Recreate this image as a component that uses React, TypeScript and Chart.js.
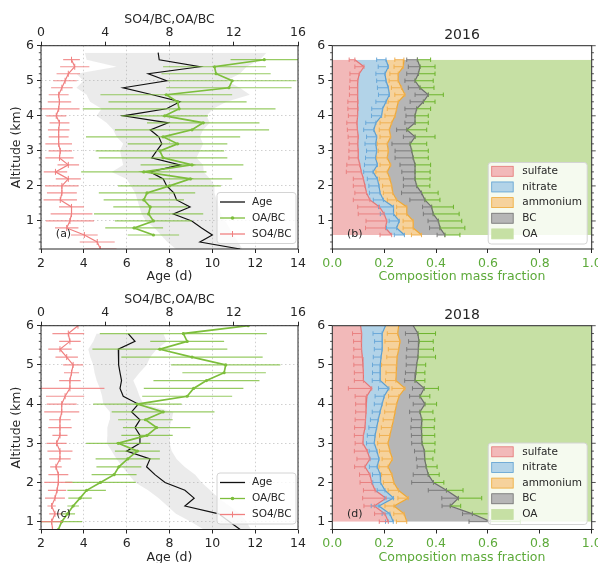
import React, { useEffect, useRef } from 'react';
import { Chart, registerables } from 'chart.js';

Chart.register(...registerables);

const FONT = 'DejaVu Sans';
const INK = '#262626';
const GREEN_TXT = '#5daa3a';

// ---------- tick labels ----------
const altTicks = [1, 2, 3, 4, 5, 6];
const ageTicks = [2, 4, 6, 8, 10, 12, 14];
const ratioTicks = [0, 4, 8, 12, 16];
const fracTicks = [0, 0.2, 0.4, 0.6, 0.8, 1.0];

// ---------- (a) 2016 profiles ----------
const ageAlt2016 = [5.8, 5.6, 5.4, 5.2, 5.0, 4.8, 4.6, 4.4, 4.2, 4.0, 3.8, 3.6, 3.4, 3.2, 3.0, 2.8, 2.6, 2.4, 2.2, 2.0, 1.8, 1.6, 1.4, 1.2, 1.0, 0.8, 0.6, 0.4, 0.2];
const age2016 = [7.47, 7.52, 9.42, 7.01, 7.87, 5.84, 7.2, 8.49, 7.86, 5.84, 7.94, 7.1, 7.5, 7.64, 7.4, 7.17, 8.49, 7.09, 7.71, 7.87, 8.2, 8.33, 8.96, 8.18, 9.04, 9.5, 10.0, 9.42, 11.3];
const ageLo2016 = [4.05, 4.13, 5.53, 3.66, 3.98, 3.66, 4.13, 4.29, 4.83, 4.6, 5.06, 5.37, 5.53, 5.84, 5.69, 5.76, 5.84, 5.3, 6.0, 6.2, 6.4, 6.5, 6.6, 6.7, 6.9, 7.3, 7.6, 7.9, 8.3];
const ageHi2016 = [12.53, 12.22, 11.6, 11.28, 10.66, 11.28, 11.75, 10.66, 10.04, 9.73, 9.88, 9.57, 9.42, 9.57, 9.42, 9.26, 9.57, 9.6, 9.9, 10.1, 10.1, 10.2, 10.3, 10.4, 10.6, 10.8, 11.0, 11.2, 11.4];

const so4Alt2016 = [5.6, 5.4, 5.2, 5.0, 4.8, 4.6, 4.4, 4.2, 4.0, 3.8, 3.6, 3.4, 3.2, 3.0, 2.8, 2.6, 2.4, 2.2, 2.0, 1.8, 1.6, 1.4, 1.2, 1.0, 0.8, 0.6, 0.4, 0.2];
const so4bc2016 = [1.9, 2.1, 1.7, 1.5, 1.3, 1.1, 1.15, 1.1, 0.95, 1.15, 1.1, 1.1, 1.1, 1.2, 1.15, 1.7, 0.9, 1.7, 1.3, 1.3, 1.2, 1.9, 1.9, 1.8, 1.6, 2.7, 3.5, 3.7];
const so4bcErr2016 = [0.52, 0.91, 0.73, 0.73, 0.67, 0.62, 0.73, 1.3, 0.62, 0.62, 0.67, 0.62, 0.83, 0.73, 0.88, 0.67, 0.73, 0.78, 1.04, 0.93, 1.04, 0.78, 1.3, 1.5, 0.73, 0.83, 1.09, 1.0];

const oaAlt2016 = [5.6, 5.4, 5.2, 5.0, 4.8, 4.6, 4.4, 4.2, 4.0, 3.8, 3.6, 3.4, 3.2, 3.0, 2.8, 2.6, 2.4, 2.2, 2.0, 1.8, 1.6, 1.4, 1.2, 1.0, 0.8, 0.6];
const oabc2016 = [13.9, 10.8, 10.9, 11.9, 11.7, 7.8, 8.5, 8.6, 7.7, 10.1, 9.4, 7.6, 8.5, 7.4, 7.6, 9.4, 6.4, 9.3, 8.0, 6.6, 6.4, 6.8, 6.7, 7.0, 5.8, 7.0];
const oabcErr2016 = [2.1, 3.2, 3.4, 4.0, 3.9, 4.1, 4.3, 6.0, 2.7, 3.5, 4.8, 4.8, 3.1, 4.0, 4.0, 3.2, 3.9, 2.6, 3.2, 3.0, 2.5, 2.3, 3.4, 2.4, 1.8, 1.6];

// ---------- (b) 2016 composition ----------
const compAlt2016 = [5.6, 5.4, 5.2, 5.0, 4.8, 4.6, 4.4, 4.2, 4.0, 3.8, 3.6, 3.4, 3.2, 3.0, 2.8, 2.6, 2.4, 2.2, 2.0, 1.8, 1.6, 1.4, 1.2, 1.0, 0.8, 0.6];
const sulfate2016 = [0.087, 0.122, 0.104, 0.098, 0.097, 0.097, 0.099, 0.099, 0.097, 0.095, 0.097, 0.100, 0.098, 0.100, 0.100, 0.106, 0.112, 0.120, 0.126, 0.132, 0.145, 0.182, 0.200, 0.210, 0.205, 0.229];
const nitrate2016 = [0.120, 0.094, 0.099, 0.109, 0.119, 0.123, 0.108, 0.095, 0.093, 0.073, 0.063, 0.071, 0.070, 0.071, 0.067, 0.068, 0.045, 0.054, 0.054, 0.052, 0.052, 0.054, 0.036, 0.048, 0.043, 0.049];
const ammonium2016 = [0.069, 0.058, 0.051, 0.047, 0.051, 0.060, 0.047, 0.054, 0.052, 0.061, 0.060, 0.054, 0.044, 0.045, 0.045, 0.051, 0.055, 0.048, 0.049, 0.049, 0.051, 0.051, 0.051, 0.054, 0.064, 0.066];
const bc2016 = [0.052, 0.064, 0.078, 0.065, 0.071, 0.090, 0.097, 0.077, 0.077, 0.090, 0.067, 0.094, 0.088, 0.090, 0.100, 0.094, 0.107, 0.097, 0.096, 0.111, 0.109, 0.096, 0.102, 0.097, 0.103, 0.090];
const oa2016 = [0.672, 0.662, 0.668, 0.681, 0.662, 0.630, 0.649, 0.675, 0.681, 0.681, 0.713, 0.681, 0.700, 0.694, 0.688, 0.681, 0.681, 0.681, 0.675, 0.656, 0.643, 0.617, 0.611, 0.591, 0.585, 0.566];
const sulfateErr2016 = [0.022, 0.035, 0.036, 0.030, 0.031, 0.031, 0.039, 0.039, 0.035, 0.039, 0.039, 0.039, 0.033, 0.036, 0.036, 0.050, 0.058, 0.039, 0.045, 0.045, 0.064, 0.084, 0.100, 0.080, 0.077, 0.045];
const nitrateErr2016 = [0.036, 0.039, 0.035, 0.036, 0.042, 0.042, 0.039, 0.042, 0.039, 0.039, 0.039, 0.039, 0.042, 0.039, 0.039, 0.050, 0.036, 0.039, 0.039, 0.041, 0.039, 0.058, 0.051, 0.039, 0.039, 0.039];
const ammoniumErr2016 = [0.035, 0.036, 0.032, 0.035, 0.039, 0.039, 0.039, 0.036, 0.039, 0.045, 0.039, 0.041, 0.039, 0.039, 0.041, 0.041, 0.044, 0.041, 0.035, 0.036, 0.036, 0.039, 0.039, 0.039, 0.039, 0.039];
const bcErr2016 = [0.041, 0.045, 0.045, 0.039, 0.045, 0.051, 0.051, 0.045, 0.035, 0.039, 0.039, 0.045, 0.070, 0.064, 0.070, 0.058, 0.051, 0.045, 0.051, 0.077, 0.058, 0.035, 0.038, 0.040, 0.040, 0.030];
const oaErr2016 = [0.051, 0.058, 0.064, 0.070, 0.054, 0.058, 0.045, 0.054, 0.051, 0.051, 0.077, 0.077, 0.064, 0.064, 0.058, 0.060, 0.058, 0.058, 0.051, 0.064, 0.058, 0.084, 0.100, 0.090, 0.096, 0.058];

// ---------- (c) 2018 profiles ----------
const ageAlt2018 = [5.8, 5.6, 5.4, 5.2, 5.0, 4.8, 4.6, 4.4, 4.2, 4.0, 3.8, 3.6, 3.4, 3.2, 3.0, 2.8, 2.6, 2.4, 2.2, 2.0, 1.8, 1.6, 1.4, 1.2, 1.0, 0.8];
const age2018 = [6.07, 6.39, 5.61, 5.61, 5.64, 5.69, 5.76, 5.69, 5.84, 6.54, 6.23, 6.62, 6.39, 6.62, 6.62, 6.0, 7.09, 6.93, 7.32, 7.79, 8.72, 9.15, 8.72, 10.3, 10.8, 11.3];
const ageLo2018 = [4.6, 4.44, 4.21, 4.3, 4.44, 4.5, 4.6, 4.75, 4.85, 4.91, 5.22, 5.2, 5.1, 5.1, 5.07, 5.3, 5.53, 5.8, 6.1, 6.4, 7.0, 7.5, 7.9, 8.3, 9.0, 9.6];
const ageHi2018 = [7.71, 7.87, 7.4, 7.1, 6.93, 6.6, 6.31, 6.47, 6.6, 6.78, 8.18, 8.1, 8.0, 8.0, 8.02, 8.1, 8.33, 8.7, 9.2, 9.5, 9.9, 10.3, 10.8, 11.3, 11.6, 11.8];

const ratioAlt2018 = [6.0, 5.8, 5.6, 5.4, 5.2, 5.0, 4.8, 4.6, 4.4, 4.2, 4.0, 3.8, 3.6, 3.4, 3.2, 3.0, 2.8, 2.6, 2.4, 2.2, 2.0, 1.8, 1.6, 1.4, 1.2, 1.0, 0.8];
const so4bc2018 = [2.3, 1.7, 1.8, 1.18, 1.6, 2.0, 1.9, 1.8, 1.8, 1.5, 1.29, 1.29, 1.18, 1.18, 1.18, 0.97, 1.18, 1.18, 0.93, 1.08, 1.08, 1.0, 0.87, 0.66, 0.87, 0.66, 0.72];
const so4bcErr2018 = [0, 0.99, 0.67, 0.73, 0.7, 0.62, 0.47, 0.67, 2.15, 1.19, 0.93, 1.09, 0.67, 0.73, 0.47, 0.62, 0.78, 0.67, 0.36, 0.62, 0.88, 0.57, 0.62, 0.26, 0.36, 0.67, 0.5];
const oabc2018 = [12.9, 8.86, 9.1, 7.4, 9.4, 11.5, 11.4, 10.3, 9.5, 9.1, 6.0, 7.6, 6.5, 7.2, 6.6, 4.81, 6.0, 5.4, 4.85, 4.55, 3.7, 2.84, 2.43, 2.0, 1.65, 1.29, 1.08];
const oabcErr2018 = [0, 5.2, 2.3, 4.2, 4.4, 3.4, 2.6, 3.3, 3.1, 2.8, 2.75, 3.2, 1.7, 2.1, 1.6, 2.0, 1.4, 2.0, 1.4, 1.4, 2.2, 1.2, 0.73, 0.36, 0.47, 1.27, 0.3];

// ---------- (d) 2018 composition ----------
const compAlt2018 = [6.0, 5.8, 5.6, 5.4, 5.2, 5.0, 4.8, 4.6, 4.4, 4.2, 4.0, 3.8, 3.6, 3.4, 3.2, 3.0, 2.8, 2.6, 2.4, 2.2, 2.0, 1.8, 1.6, 1.4, 1.2, 1.0];
const sulfate2018 = [0.109, 0.113, 0.112, 0.113, 0.116, 0.118, 0.120, 0.120, 0.152, 0.133, 0.130, 0.130, 0.128, 0.126, 0.120, 0.118, 0.135, 0.145, 0.126, 0.145, 0.152, 0.165, 0.207, 0.162, 0.203, 0.216];
const nitrate2018 = [0.096, 0.079, 0.081, 0.079, 0.072, 0.067, 0.065, 0.064, 0.066, 0.067, 0.062, 0.054, 0.049, 0.045, 0.045, 0.044, 0.037, 0.035, 0.047, 0.040, 0.034, 0.038, 0.029, 0.018, 0.019, 0.019];
const ammonium2018 = [0.051, 0.060, 0.068, 0.064, 0.062, 0.063, 0.062, 0.061, 0.062, 0.057, 0.056, 0.058, 0.059, 0.058, 0.057, 0.053, 0.050, 0.052, 0.042, 0.045, 0.051, 0.052, 0.057, 0.058, 0.055, 0.052];
const bc2018 = [0.056, 0.078, 0.073, 0.076, 0.080, 0.077, 0.075, 0.074, 0.074, 0.081, 0.109, 0.096, 0.109, 0.114, 0.123, 0.131, 0.133, 0.124, 0.147, 0.140, 0.153, 0.185, 0.193, 0.217, 0.263, 0.323];
const oa2018 = [0.688, 0.670, 0.666, 0.668, 0.670, 0.675, 0.678, 0.681, 0.646, 0.662, 0.643, 0.662, 0.655, 0.657, 0.655, 0.654, 0.645, 0.644, 0.638, 0.630, 0.610, 0.560, 0.514, 0.545, 0.460, 0.390];
const sulfateErr2018 = [0, 0.035, 0.030, 0.030, 0.035, 0.035, 0.035, 0.035, 0.090, 0.045, 0.040, 0.040, 0.040, 0.040, 0.035, 0.030, 0.050, 0.050, 0.040, 0.040, 0.045, 0.045, 0.090, 0.040, 0.040, 0.035];
const nitrateErr2018 = [0, 0.035, 0.030, 0.030, 0.030, 0.030, 0.030, 0.030, 0.040, 0.035, 0.030, 0.030, 0.030, 0.030, 0.030, 0.030, 0.030, 0.035, 0.030, 0.030, 0.030, 0.030, 0.035, 0.030, 0.030, 0.030];
const ammoniumErr2018 = [0, 0.040, 0.058, 0.040, 0.040, 0.058, 0.040, 0.040, 0.050, 0.040, 0.040, 0.040, 0.040, 0.040, 0.040, 0.040, 0.040, 0.040, 0.035, 0.040, 0.040, 0.040, 0.040, 0.035, 0.040, 0.040];
const bcErr2018 = [0, 0.048, 0.040, 0.045, 0.045, 0.040, 0.040, 0.040, 0.045, 0.040, 0.045, 0.040, 0.040, 0.040, 0.040, 0.040, 0.038, 0.032, 0.035, 0.058, 0.084, 0.070, 0.064, 0.032, 0.038, 0.083];
const oaErr2018 = [0, 0.068, 0.055, 0.058, 0.068, 0.035, 0.035, 0.038, 0.055, 0.038, 0.045, 0.050, 0.050, 0.050, 0.050, 0.050, 0.040, 0.032, 0.042, 0.042, 0.040, 0.064, 0.090, 0.040, 0.064, 0.115];

// ---------- styles ----------
const C = {
  sulfate: { fill: '#f2b9b9', line: '#e47474', bar: '#e98080' },
  nitrate: { fill: '#b2d3e8', line: '#5b9fd2', bar: '#6aa8d8' },
  ammonium: { fill: '#f6d29c', line: '#efa935', bar: '#f0b050' },
  bc: { fill: '#b6b6b6', line: '#6e6e6e', bar: '#7a7a7a' },
  oa: { fill: '#c6e0a4', line: '#72b832', bar: '#6cb42c' },
};
const GREEN = '#7dbe3c';
const RED = '#f08080';

// ---------- helpers ----------
const pts = (xs: number[], ys: number[]) => xs.map((x, i) => ({ x, y: ys[i] }));
function segs(ys: number[], lo: number[], hi: number[]) {
  const out: any[] = [];
  ys.forEach((y, i) => {
    if (hi[i] - lo[i] <= 1e-9) return;
    out.push({ x: lo[i], y }, { x: hi[i], y }, { x: null, y: null });
  });
  return out;
}
function cumulate(parts: number[][]) {
  const out: number[][] = [];
  let acc = parts[0].map(() => 0);
  for (const p of parts) {
    acc = acc.map((a, i) => a + p[i]);
    out.push(acc);
  }
  return out;
}

const tickFont = { family: FONT, size: 12.5 };
const LEG_FONT = 10.5;

function yScale(min: number, width: number, withTitle: boolean, gridOn: boolean) {
  return {
    type: 'linear', position: 'left', min, max: 6,
    afterBuildTicks: (s: any) => { s.ticks = altTicks.map((value) => ({ value })); },
    afterFit: (s: any) => { s.width = width; s.paddingTop = 0; s.paddingBottom = 0; },
    grid: { drawOnChartArea: gridOn, color: '#c4c4c4', lineWidth: 0.8, tickLength: 4, tickColor: INK, tickWidth: 1 },
    border: { display: false, dash: [1.5, 2.5] },
    ticks: { color: INK, font: tickFont, padding: 3, autoSkip: false, callback: (v: any) => String(v) },
    title: { display: withTitle, text: 'Altitude (km)', color: INK, font: tickFont, padding: { top: 0.5, bottom: 0 } },
  };
}

const decor = {
  id: 'decor',
  afterDraw(chart: any, _args: any, o: any) {
    const { ctx, chartArea: a } = chart;
    const ys = chart.scales.y;
    ctx.save();
    ctx.strokeStyle = INK;
    ctx.lineWidth = 0.8;
    ctx.beginPath();
    for (let k = Math.ceil(ys.min / 0.2 - 1e-6); k * 0.2 <= ys.max + 1e-6; k++) {
      const v = k * 0.2;
      if (Math.abs(v - Math.round(v)) < 1e-6) continue;
      const py = ys.getPixelForValue(v);
      ctx.moveTo(a.left - 2.2, py); ctx.lineTo(a.left, py);
      if (o.rightTicks) { ctx.moveTo(a.right, py); ctx.lineTo(a.right + 2.2, py); }
    }
    if (o.rightTicks) {
      for (const v of altTicks) {
        const py = ys.getPixelForValue(v);
        ctx.moveTo(a.right, py); ctx.lineTo(a.right + 4, py);
      }
    }
    ctx.stroke();
    ctx.lineWidth = 1;
    ctx.strokeStyle = INK;
    ctx.strokeRect(a.left, a.top, a.right - a.left, a.bottom - a.top);

    // legend
    const L = o.legend;
    const bx = a.right - L.right - L.w;
    const by = a.bottom - L.bottom - L.h;
    ctx.beginPath();
    if (ctx.roundRect) ctx.roundRect(bx, by, L.w, L.h, 3); else ctx.rect(bx, by, L.w, L.h);
    ctx.fillStyle = 'rgba(255,255,255,0.82)';
    ctx.fill();
    ctx.strokeStyle = '#d4d4d4';
    ctx.lineWidth = 1;
    ctx.stroke();
    ctx.font = `${LEG_FONT}px "${FONT}"`;
    ctx.textBaseline = 'middle';
    ctx.textAlign = 'left';
    L.rows.forEach((r: any, i: number) => {
      const cy = by + L.first + i * L.step;
      if (r.kind === 'line') {
        ctx.strokeStyle = r.color;
        ctx.lineWidth = r.width;
        ctx.beginPath(); ctx.moveTo(bx + 3, cy); ctx.lineTo(bx + 28, cy); ctx.stroke();
        const mx = bx + 15.5;
        if (r.marker === 'dot') {
          ctx.fillStyle = r.color;
          ctx.beginPath(); ctx.arc(mx, cy, 1.8, 0, Math.PI * 2); ctx.fill();
        } else if (r.marker === 'vtick') {
          ctx.lineWidth = 1;
          ctx.beginPath(); ctx.moveTo(mx, cy - 3); ctx.lineTo(mx, cy + 3); ctx.stroke();
        }
      } else {
        ctx.fillStyle = r.fill;
        ctx.fillRect(bx + 3.5, cy - 5, 21.5, 10);
        ctx.strokeStyle = r.color;
        ctx.lineWidth = 0.8;
        ctx.strokeRect(bx + 3.5, cy - 5, 21.5, 10);
      }
      ctx.fillStyle = INK;
      ctx.fillText(r.label, bx + L.textDx, cy);
    });

    // panel tag
    ctx.font = `11px "${FONT}"`;
    ctx.textAlign = 'center';
    ctx.fillStyle = INK;
    ctx.fillText(o.tag, a.left + 22.5, a.bottom - 15);
    ctx.restore();
  },
};

const profileLegend = {
  w: 79, h: 51, right: 2, bottom: 5.5, first: 9.5, step: 16, textDx: 35,
  rows: [
    { kind: 'line', label: 'Age', color: '#111111', width: 1.3 },
    { kind: 'line', label: 'OA/BC', color: GREEN, width: 1.3, marker: 'dot' },
    { kind: 'line', label: 'SO4/BC', color: RED, width: 1.3, marker: 'vtick' },
  ],
};
const compLegend = {
  w: 99, h: 81.5, right: 4.5, bottom: 5, first: 8.8, step: 15.65, textDx: 34,
  rows: [
    { kind: 'patch', label: 'sulfate', fill: C.sulfate.fill, color: C.sulfate.line },
    { kind: 'patch', label: 'nitrate', fill: C.nitrate.fill, color: C.nitrate.line },
    { kind: 'patch', label: 'ammonium', fill: C.ammonium.fill, color: C.ammonium.line },
    { kind: 'patch', label: 'BC', fill: C.bc.fill, color: C.bc.line },
    { kind: 'patch', label: 'OA', fill: C.oa.fill, color: C.oa.fill },
  ],
};

function profileConfig(p: any) {
  const oaLo = p.oa.map((v: number, i: number) => v - p.oaErr[i]);
  const oaHi = p.oa.map((v: number, i: number) => v + p.oaErr[i]);
  const soLo = p.so4.map((v: number, i: number) => v - p.so4Err[i]);
  const soHi = p.so4.map((v: number, i: number) => v + p.so4Err[i]);
  const base = { pointRadius: 0, fill: false, tension: 0 };
  return {
    type: 'line',
    data: {
      datasets: [
        { ...base, data: pts(p.ageLo, p.ageAlt), xAxisID: 'x', borderWidth: 0, order: 7 },
        { ...base, data: pts(p.ageHi, p.ageAlt), xAxisID: 'x', borderWidth: 0, fill: '-1', backgroundColor: 'rgba(165,165,165,0.22)', order: 7 },
        { ...base, data: pts(p.age, p.ageAlt), xAxisID: 'x', borderColor: '#111111', borderWidth: 1.2, order: 6 },
        { ...base, data: segs(p.oaAlt, oaLo, oaHi), xAxisID: 'xTop', borderColor: 'rgba(125,190,60,0.8)', borderWidth: 1.2, order: 5 },
        { ...base, data: pts(p.oa, p.oaAlt), xAxisID: 'xTop', borderColor: GREEN, borderWidth: 1.7, pointRadius: 1.6, pointBackgroundColor: GREEN, pointBorderWidth: 0, order: 4 },
        { ...base, data: segs(p.so4Alt, soLo, soHi), xAxisID: 'xTop', borderColor: 'rgba(240,128,128,0.85)', borderWidth: 1.2, order: 3 },
        { ...base, data: pts(p.so4, p.so4Alt), xAxisID: 'xTop', borderColor: RED, borderWidth: 1.2, pointStyle: 'line', rotation: 90, pointRadius: 3, pointBorderColor: RED, pointBorderWidth: 1, order: 2 },
      ],
    },
    options: {
      responsive: false,
      animation: false,
      indexAxis: 'y',
      layout: { padding: p.padding },
      scales: {
        y: yScale(p.ymin, 32, true, true),
        x: {
          type: 'linear', position: 'bottom', min: 2, max: 14,
          afterBuildTicks: (s: any) => { s.ticks = ageTicks.map((value) => ({ value })); },
          afterFit: (s: any) => { s.height = 35.5; s.paddingLeft = 0; s.paddingRight = 0; },
          grid: { drawOnChartArea: true, color: '#c4c4c4', lineWidth: 0.8, tickLength: 4, tickColor: INK, tickWidth: 1 },
          border: { display: false, dash: [1.5, 2.5] },
          ticks: { color: INK, font: tickFont, padding: 3, maxRotation: 0, autoSkip: false, callback: (v: any) => String(v) },
          title: { display: true, text: 'Age (d)', color: INK, font: tickFont, padding: { top: 0, bottom: 0 } },
        },
        xTop: {
          type: 'linear', position: 'top', min: 0, max: 16,
          afterBuildTicks: (s: any) => { s.ticks = ratioTicks.map((value) => ({ value })); },
          afterFit: (s: any) => { s.height = 33.7; s.paddingLeft = 0; s.paddingRight = 0; },
          grid: { drawOnChartArea: false, tickLength: 4, tickColor: INK, tickWidth: 1 },
          border: { display: false },
          ticks: { color: INK, font: tickFont, padding: 1.5, maxRotation: 0, autoSkip: false, callback: (v: any) => String(v) },
          title: { display: true, text: 'SO4/BC,OA/BC', color: INK, font: tickFont, padding: { top: 0.5, bottom: 0 } },
        },
      },
      plugins: {
        legend: { display: false },
        tooltip: { enabled: false },
        filler: { drawTime: 'beforeDatasetsDraw' },
        decor: { rightTicks: false, legend: profileLegend, tag: p.tag },
      },
    },
    plugins: [decor],
  };
}

function compConfig(p: any) {
  const [c1, c2, c3, c4, c5] = cumulate([p.sulfate, p.nitrate, p.ammonium, p.bc, p.oa]);
  const minus = (b: number[], e: number[]) => b.map((v, i) => v - e[i]);
  const plus = (b: number[], e: number[]) => b.map((v, i) => v + e[i]);
  const area = (xs: number[], fill: any, key: keyof typeof C, order: number, lineOn = true) => ({
    data: pts(xs, p.alt), fill, backgroundColor: C[key].fill, borderColor: lineOn ? C[key].line : 'rgba(0,0,0,0)',
    borderWidth: lineOn ? 1.2 : 0, pointRadius: 0, tension: 0, order,
  });
  const bar = (data: any[], key: keyof typeof C) => ({
    data, fill: false, borderColor: C[key].bar, borderWidth: 1, tension: 0,
    pointStyle: 'line', rotation: 90, pointRadius: 2.2, pointBorderColor: C[key].bar, pointBorderWidth: 1, order: 1,
  });
  return {
    type: 'line',
    data: {
      datasets: [
        area(c1, { value: 0 }, 'sulfate', 10),
        area(c2, '-1', 'nitrate', 9),
        area(c3, '-1', 'ammonium', 8),
        area(c4, '-1', 'bc', 7),
        area(c5, '-1', 'oa', 11, false),
        bar(segs(p.alt, minus(c1, p.sulfateErr), c1), 'sulfate'),
        bar(segs(p.alt, minus(c2, p.nitrateErr), c2), 'nitrate'),
        bar(segs(p.alt, minus(c3, p.ammoniumErr), c3), 'ammonium'),
        bar(segs(p.alt, minus(c4, p.bcErr), c4), 'bc'),
        bar(segs(p.alt, c4, plus(c4, p.oaErr)), 'oa'),
      ],
    },
    options: {
      responsive: false,
      animation: false,
      indexAxis: 'y',
      layout: { padding: p.padding },
      scales: {
        y: yScale(p.ymin, 22.3, false, false),
        x: {
          type: 'linear', position: 'bottom', min: 0, max: 1,
          afterBuildTicks: (s: any) => { s.ticks = fracTicks.map((value) => ({ value })); },
          afterFit: (s: any) => { s.height = 35.5; s.paddingLeft = 0; s.paddingRight = 0; },
          grid: { drawOnChartArea: false, tickLength: 4, tickColor: INK, tickWidth: 1 },
          border: { display: false },
          ticks: { color: GREEN_TXT, font: tickFont, padding: 3, maxRotation: 0, autoSkip: false, callback: (v: any) => Number(v).toFixed(1) },
          title: { display: true, text: 'Composition mass fraction', color: GREEN_TXT, font: tickFont, padding: { top: 0, bottom: 0 } },
        },
      },
      plugins: {
        legend: { display: false },
        tooltip: { enabled: false },
        filler: { drawTime: 'beforeDatasetsDraw' },
        title: { display: true, text: p.title, color: INK, fullSize: false, font: { family: FONT, size: 14, weight: 'normal' }, padding: { top: 14.6, bottom: 2.3 } },
        decor: { rightTicks: true, legend: compLegend, tag: p.tag },
      },
    },
    plugins: [decor],
  };
}

export default function App() {
  const refs = [useRef<HTMLCanvasElement>(null), useRef<HTMLCanvasElement>(null), useRef<HTMLCanvasElement>(null), useRef<HTMLCanvasElement>(null)];
  useEffect(() => {
    Chart.defaults.font.family = FONT;
    Chart.defaults.color = INK;
    const configs: any[] = [
      profileConfig({
        ageAlt: ageAlt2016, age: age2016, ageLo: ageLo2016, ageHi: ageHi2016,
        so4Alt: so4Alt2016, so4: so4bc2016, so4Err: so4bcErr2016,
        oaAlt: oaAlt2016, oa: oabc2016, oaErr: oabcErr2016,
        ymin: 0.2, tag: '(a)', padding: { left: 9, top: 12, right: 300, bottom: 315.5 },
      }),
      compConfig({
        alt: compAlt2016, sulfate: sulfate2016, nitrate: nitrate2016, ammonium: ammonium2016, bc: bc2016, oa: oa2016,
        sulfateErr: sulfateErr2016, nitrateErr: nitrateErr2016, ammoniumErr: ammoniumErr2016, bcErr: bcErr2016, oaErr: oaErr2016,
        ymin: 0.2, tag: '(b)', title: '2016', padding: { left: 310, top: 12, right: 6.3, bottom: 315.5 },
      }),
      profileConfig({
        ageAlt: ageAlt2018, age: age2018, ageLo: ageLo2018, ageHi: ageHi2018,
        so4Alt: ratioAlt2018, so4: so4bc2018, so4Err: so4bcErr2018,
        oaAlt: ratioAlt2018, oa: oabc2018, oaErr: oabcErr2018,
        ymin: 0.8, tag: '(c)', padding: { left: 9, top: 292, right: 300, bottom: 35 },
      }),
      compConfig({
        alt: compAlt2018, sulfate: sulfate2018, nitrate: nitrate2018, ammonium: ammonium2018, bc: bc2018, oa: oa2018,
        sulfateErr: sulfateErr2018, nitrateErr: nitrateErr2018, ammoniumErr: ammoniumErr2018, bcErr: bcErr2018, oaErr: oaErr2018,
        ymin: 0.8, tag: '(d)', title: '2018', padding: { left: 310, top: 292, right: 6.3, bottom: 35 },
      }),
    ];
    const charts = configs.map((cfg, i) => new Chart(refs[i].current as HTMLCanvasElement, cfg));
    return () => charts.forEach((c) => c.destroy());
  }, []);

  const cs: React.CSSProperties = { position: 'absolute', left: 0, top: 0 };
  return (
    <div style={{ position: 'fixed', left: 0, top: 0, width: 598, height: 563, overflow: 'hidden', background: '#ffffff' }}>
      {refs.map((r, i) => (
        <canvas key={i} ref={r} width={598} height={600} style={cs} />
      ))}
    </div>
  );
}
